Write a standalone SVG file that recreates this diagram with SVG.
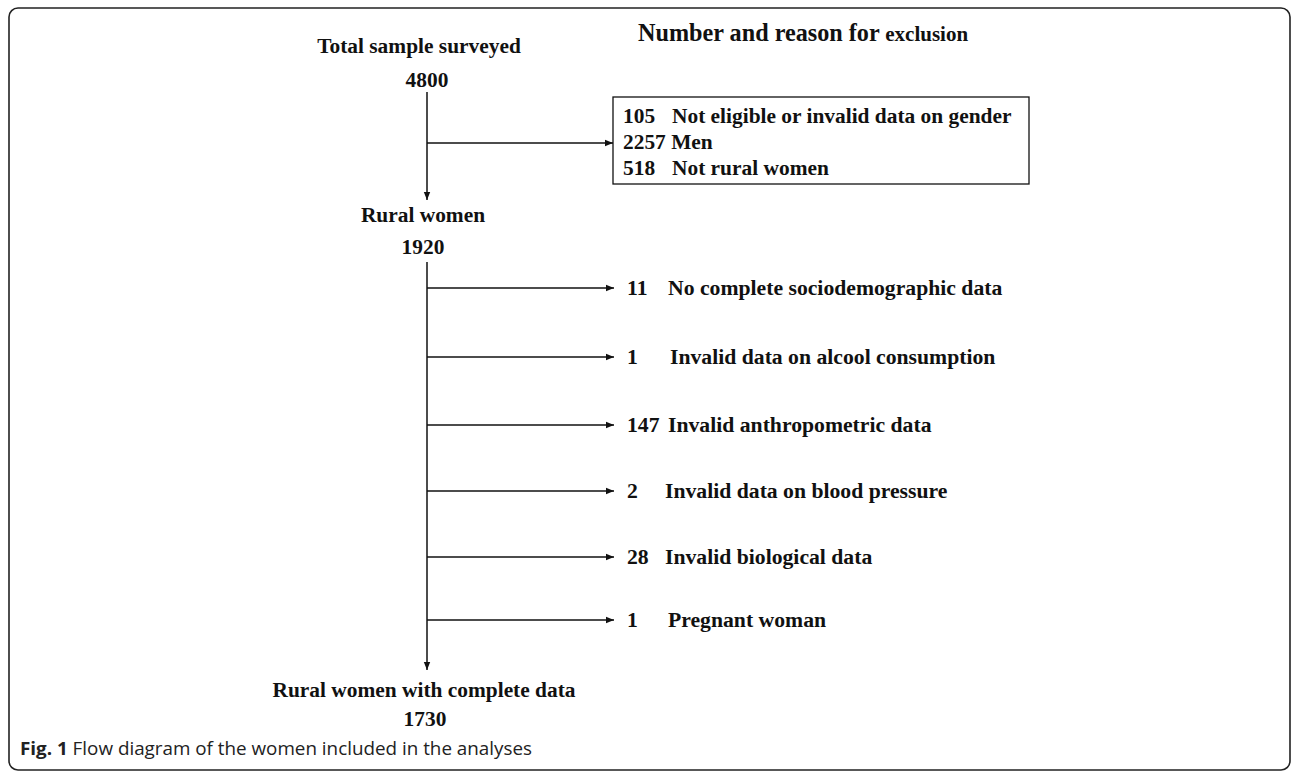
<svg xmlns="http://www.w3.org/2000/svg" width="1292" height="772" viewBox="0 0 1292 772">
<style>
.t{font-family:"Liberation Serif","Times New Roman",serif;font-weight:bold;fill:#111;font-size:21.4px}
.r{font-size:21.7px}
.c{text-anchor:middle}
.ln{stroke:#111;stroke-width:1.5;fill:none}
.cap{font-family:"Open Sans","Noto Sans",sans-serif;font-size:18px;fill:#222}
</style>
<defs>
<marker id="ah" viewBox="0 0 10 10" refX="10" refY="5" markerWidth="8" markerHeight="8" markerUnits="userSpaceOnUse" orient="auto">
<path d="M0,1 L10,5 L0,9 Z" fill="#111"/>
</marker>
</defs>
<rect x="9" y="8" width="1281" height="762" rx="9" fill="#fff" stroke="#222" stroke-width="1.6"/>
<g id="title"><text class="t" x="638" y="41" style="font-size:24.2px">Number and reason for <tspan style="font-size:21px">exclusion</tspan></text></g>
<g id="total"><text class="t c" x="419" y="53">Total sample surveyed</text><text class="t c" x="427" y="87">4800</text></g>
<g id="excl1">
<rect x="613" y="97" width="416" height="87" fill="none" stroke="#111" stroke-width="1.3"/>
<text class="t" x="623" y="123">105</text><text class="t" x="672" y="123">Not eligible or invalid data on gender</text>
<text class="t" x="623" y="148.5">2257 Men</text>
<text class="t" x="623" y="175">518</text><text class="t" x="672" y="175">Not rural women</text>
</g>
<g id="rural"><text class="t c" x="423" y="222">Rural women</text><text class="t c" x="423" y="254">1920</text></g>
<g id="e2"><text class="t r" x="627" y="295">11</text><text class="t r" x="668" y="295">No complete sociodemographic data</text></g>
<g id="e3"><text class="t r" x="627" y="364">1</text><text class="t r" x="670" y="364">Invalid data on alcool consumption</text></g>
<g id="e4"><text class="t r" x="627" y="432">147</text><text class="t r" x="668" y="432">Invalid anthropometric data</text></g>
<g id="e5"><text class="t r" x="627" y="498">2</text><text class="t r" x="665" y="498">Invalid data on blood pressure</text></g>
<g id="e6"><text class="t r" x="627" y="564">28</text><text class="t r" x="665" y="564">Invalid biological data</text></g>
<g id="e7"><text class="t r" x="627" y="627">1</text><text class="t r" x="668" y="627">Pregnant woman</text></g>
<g id="final"><text class="t c" x="424" y="697">Rural women with complete data</text><text class="t c" x="425" y="726">1730</text></g>
<g id="connectors">
<line class="ln" x1="427" y1="92" x2="427" y2="200" marker-end="url(#ah)"/>
<line class="ln" x1="427" y1="143" x2="613" y2="143" marker-end="url(#ah)"/>
<line class="ln" x1="427" y1="262" x2="427" y2="670" marker-end="url(#ah)"/>
<line class="ln" x1="427" y1="288" x2="614" y2="288" marker-end="url(#ah)"/>
<line class="ln" x1="427" y1="357" x2="614" y2="357" marker-end="url(#ah)"/>
<line class="ln" x1="427" y1="425" x2="614" y2="425" marker-end="url(#ah)"/>
<line class="ln" x1="427" y1="491" x2="614" y2="491" marker-end="url(#ah)"/>
<line class="ln" x1="427" y1="557" x2="614" y2="557" marker-end="url(#ah)"/>
<line class="ln" x1="427" y1="620" x2="614" y2="620" marker-end="url(#ah)"/>
</g>
<g id="caption"><text class="cap" x="20" y="755" textLength="512" lengthAdjust="spacingAndGlyphs"><tspan font-weight="bold">Fig. 1</tspan> Flow diagram of the women included in the analyses</text></g>
</svg>
